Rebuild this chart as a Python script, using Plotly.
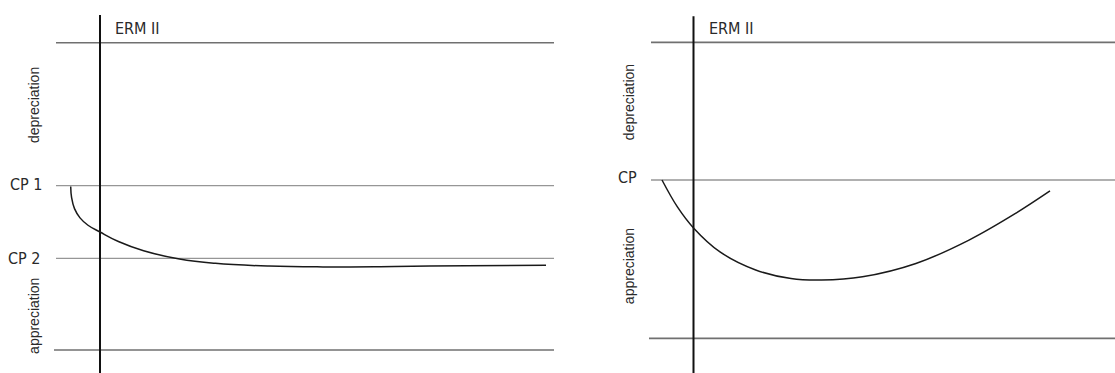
import plotly.graph_objects as go

# ---------------- data (abstract units) ----------------
# y: position inside the fluctuation band (bottom margin = 0, top margin = 100)
# x: time, ERM II entry at t = 0
BAND_TOP = 100.0
BAND_BOTTOM = 0.0

# Left panel: revaluation of central parity (CP 1 -> CP 2)
left_cp1 = 53.5
left_cp2 = 29.8
left_t = [-29.3, -28.4, -25.5, -20.0, -12.0, 0.0, 18.4, 43.6,
          79.5, 115.4, 169.0, 223.0, 294.8, 366.6, 446.0]
left_rate = [53.2, 49.6, 46.0, 43.0, 40.6, 38.4, 35.3, 32.3,
             29.6, 28.2, 27.3, 27.05, 27.2, 27.45, 27.6]

# Right panel: single central parity (CP)
right_cp = 53.5
right_t = [-31.5, -16.1, 0.0, 26.5, 62.2, 97.5, 128.1, 169.0, 222.4, 275.5,
           322.0, 356.5]
right_rate = [53.5, 44.4, 37.3, 29.2, 23.1, 20.2, 19.7, 20.8, 25.3, 33.2,
              42.2, 49.8]

labels_left_cp = ["CP 1", "CP 2"]
label_right_cp = "CP"
label_erm = "ERM II"
label_dep = "depreciation"
label_app = "appreciation"

# ---------------- figure ----------------
W, H = 1115, 373
FONT = dict(family="Liberation Sans, Arial, sans-serif", size=14, color="#2a2a2a")
FONT_H = dict(family="Liberation Sans Narrow, Arial Narrow, DejaVu Sans Condensed, sans-serif",
              size=16, color="#2a2a2a")
BAND_COLOR = "#707070"
CP_COLOR = "#969696"

fig = go.Figure()


def hline(xa, ya, x0, x1, y, color, width):
    fig.add_trace(go.Scatter(x=[x0, x1], y=[y, y], mode="lines",
                             line=dict(color=color, width=width),
                             xaxis=xa, yaxis=ya, hoverinfo="skip",
                             showlegend=False))


def vline(xa, ya, x, y0, y1):
    fig.add_trace(go.Scatter(x=[x, x], y=[y0, y1], mode="lines",
                             line=dict(color="#111111", width=2),
                             xaxis=xa, yaxis=ya, hoverinfo="skip",
                             showlegend=False))


# left panel
hline("x", "y", -44, 454, BAND_TOP, BAND_COLOR, 1.6)
hline("x", "y", -46, 454, BAND_BOTTOM, BAND_COLOR, 1.6)
hline("x", "y", -44, 454, left_cp1, CP_COLOR, 1.3)
hline("x", "y", -44, 454, left_cp2, CP_COLOR, 1.3)
vline("x", "y", 0, 109.0, -10)
fig.add_trace(go.Scatter(x=left_t, y=left_rate, mode="lines",
                         line=dict(color="#1a1a1a", width=1.5, shape="spline",
                                   smoothing=1.2),
                         xaxis="x", yaxis="y", hoverinfo="skip",
                         showlegend=False))

# right panel
hline("x2", "y2", -42.5, 430, BAND_TOP, BAND_COLOR, 1.6)
hline("x2", "y2", -44.5, 430, BAND_BOTTOM, BAND_COLOR, 1.6)
hline("x2", "y2", -42.5, 430, right_cp, CP_COLOR, 1.3)
vline("x2", "y2", 0, 108.8, -15)
fig.add_trace(go.Scatter(x=right_t, y=right_rate, mode="lines",
                         line=dict(color="#1a1a1a", width=1.5, shape="spline",
                                   smoothing=1.0),
                         xaxis="x2", yaxis="y2", hoverinfo="skip",
                         showlegend=False))

ann = []
# left panel labels
ann.append(dict(text=labels_left_cp[0], x=-56, y=left_cp1, xref="x", yref="y",
                xanchor="right", yanchor="middle", yshift=1, font=FONT_H))
ann.append(dict(text=labels_left_cp[1], x=-58, y=left_cp2, xref="x", yref="y",
                xanchor="right", yanchor="middle", font=FONT_H))
ann.append(dict(text=label_erm, x=13, y=104.6, xref="x", yref="y",
                xanchor="left", yanchor="middle", font=FONT_H))
ann.append(dict(text=label_dep, x=-66, y=79.7, xref="x", yref="y",
                xanchor="center", yanchor="middle", textangle=-90, font=FONT))
ann.append(dict(text=label_app, x=-66, y=11.1, xref="x", yref="y",
                xanchor="center", yanchor="middle", textangle=-90, font=FONT))
# right panel labels
ann.append(dict(text=label_right_cp, x=-54.5, y=right_cp, xref="x2", yref="y2",
                xanchor="right", yanchor="middle", yshift=2, font=FONT_H))
ann.append(dict(text=label_erm, x=13.5, y=104.6, xref="x2", yref="y2",
                xanchor="left", yanchor="middle", font=FONT_H))
ann.append(dict(text=label_dep, x=-64.5, y=79.8, xref="x2", yref="y2",
                xanchor="center", yanchor="middle", textangle=-90, font=FONT))
ann.append(dict(text=label_app, x=-64.5, y=24.4, xref="x2", yref="y2",
                xanchor="center", yanchor="middle", textangle=-90, font=FONT))
for a in ann:
    a.update(showarrow=False)

axis_common = dict(visible=False, showgrid=False, zeroline=False, fixedrange=True)
split = 557.5 / W

fig.update_layout(
    width=W, height=H,
    margin=dict(l=0, r=0, t=0, b=0),
    paper_bgcolor="white", plot_bgcolor="white",
    xaxis=dict(domain=[0, split], range=[-100, 457.5], **axis_common),
    yaxis=dict(domain=[0, 1], range=[-7.48, 113.9], **axis_common),
    xaxis2=dict(domain=[split, 1], range=[-136, 421.5], anchor="y2", **axis_common),
    yaxis2=dict(domain=[0, 1], range=[-11.7, 114.3], anchor="x2", **axis_common),
    annotations=ann,
    hovermode=False,
    showlegend=False,
)

fig.write_html("out.html", config={"displayModeBar": False},
               post_script="document.body.style.margin='0';document.body.style.overflow='hidden';")
